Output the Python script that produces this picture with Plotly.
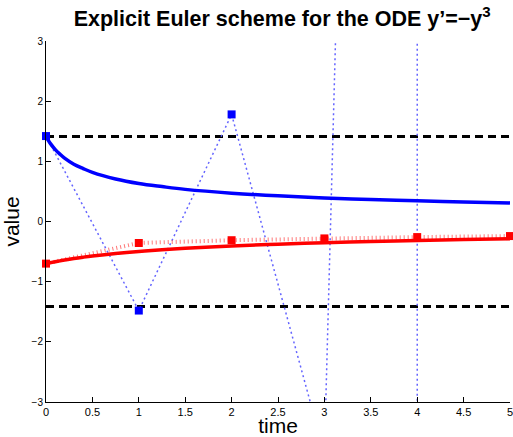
import plotly.graph_objects as go

# Exact solutions
t_exact = [0, 0.02, 0.05, 0.1, 0.15, 0.2, 0.3, 0.4, 0.5, 0.75, 1, 1.25, 1.5, 2, 2.5, 3, 3.5, 4, 4.5, 5]
blue_exact = [1.42, 1.36, 1.29, 1.195, 1.12, 1.054, 0.953, 0.88, 0.816, 0.707, 0.632, 0.58, 0.534,
              0.471, 0.426, 0.392, 0.365, 0.343, 0.324, 0.309]
red_exact = [-0.70, -0.693, -0.683, -0.668, -0.654, -0.640, -0.615, -0.593, -0.573, -0.531, -0.497,
             -0.469, -0.445, -0.407, -0.377, -0.353, -0.333, -0.316, -0.301, -0.288]

# Explicit Euler iterates, step 1
t_euler = [0, 1, 2, 3, 4, 5]
blue_euler = [1.42, -1.48, 1.78, -3.86, 53.5, -153000]
red_euler = [-0.70, -0.357, -0.311, -0.281, -0.259, -0.242]

# Bound lines
t_bound = [0, 5]
upper_bound = [1.414, 1.414]
lower_bound = [-1.414, -1.414]

x_ticks = [0, 0.5, 1, 1.5, 2, 2.5, 3, 3.5, 4, 4.5, 5]
y_ticks = [-3, -2, -1, 0, 1, 2, 3]

fig = go.Figure()

fig.add_trace(go.Scatter(x=t_bound, y=upper_bound, mode="lines",
                         line=dict(color="black", width=3, dash="8px,5px"), showlegend=False))
fig.add_trace(go.Scatter(x=t_bound, y=lower_bound, mode="lines",
                         line=dict(color="black", width=3, dash="8px,5px"), showlegend=False))

fig.add_trace(go.Scatter(x=t_euler, y=blue_euler, mode="lines",
                         line=dict(color="rgb(100,100,255)", width=1.5, dash="2px,3px"), showlegend=False))
fig.add_trace(go.Scatter(x=t_euler, y=red_euler, mode="lines",
                         line=dict(color="rgba(255,60,60,0.7)", width=4, dash="1px,3px"), showlegend=False))

fig.add_trace(go.Scatter(x=t_exact, y=blue_exact, mode="lines", line_shape="spline",
                         line=dict(color="rgb(0,0,255)", width=3.5), showlegend=False, cliponaxis=False))
fig.add_trace(go.Scatter(x=t_exact, y=red_exact, mode="lines", line_shape="spline",
                         line=dict(color="rgb(255,0,0)", width=3.5), showlegend=False, cliponaxis=False))

fig.add_trace(go.Scatter(x=t_euler, y=blue_euler, mode="markers",
                         marker=dict(symbol="square", size=8, color="rgb(0,0,255)"), showlegend=False,
                         cliponaxis=False))
fig.add_trace(go.Scatter(x=t_euler, y=red_euler, mode="markers",
                         marker=dict(symbol="square", size=8, color="rgb(255,0,0)"), showlegend=False,
                         cliponaxis=False))

font = "Liberation Sans, Arial, sans-serif"
fig.update_layout(
    width=513, height=437,
    margin=dict(l=46, r=3, t=41, b=35),
    paper_bgcolor="white", plot_bgcolor="white",
    title=dict(text="<b>Explicit Euler scheme for the ODE y’=−y<sup>3</sup></b>",
               x=0.55, xanchor="center", y=0.957, yanchor="middle",
               font=dict(family=font, size=21.5, color="black")),
    xaxis=dict(range=[0, 5], tickvals=x_ticks, ticktext=[str(v) for v in x_ticks],
               ticks="inside", ticklen=5, tickcolor="black", showline=True, linecolor="black",
               linewidth=1, showgrid=False, zeroline=False, mirror=False, automargin=False,
               ticklabeloverflow="allow",
               tickfont=dict(family=font, size=11, color="black"),
               title=dict(text="time", font=dict(family=font, size=21, color="black"), standoff=0)),
    yaxis=dict(range=[-3, 3], tickvals=y_ticks, ticktext=["−3", "−2", "−1", "0", "1", "2", "3"],
               ticks="inside", ticklen=5, tickcolor="black", showline=True, linecolor="black",
               linewidth=1, showgrid=False, zeroline=False, mirror=False, automargin=False,
               ticklabeloverflow="allow",
               tickfont=dict(family=font, size=10, color="black"),
               title=dict(text="value", font=dict(family=font, size=21, color="black"), standoff=8)),
)

fig.write_html("out.html", config={"displayModeBar": False},
               post_script="document.body.style.margin='0';document.body.style.overflow='hidden';")
